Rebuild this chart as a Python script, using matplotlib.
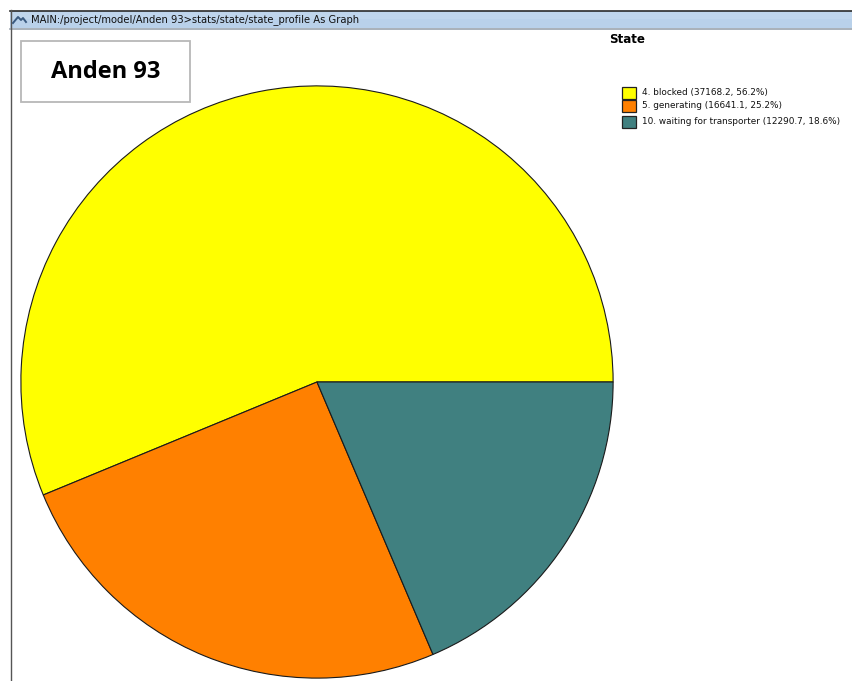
import matplotlib
matplotlib.use("Agg")
import matplotlib.pyplot as plt
from matplotlib.patches import Rectangle
from matplotlib.lines import Line2D

# State profile data
states = ["4. blocked", "5. generating", "10. waiting for transporter"]
durations = [37168.2, 16641.1, 12290.7]
percents = [56.2, 25.2, 18.6]
colors = ["#ffff00", "#ff8000", "#408080"]

window_title = "MAIN:/project/model/Anden 93>stats/state/state_profile As Graph"
object_name = "Anden 93"
legend_title = "State"

W, H = 852, 681
fig = plt.figure(figsize=(W / 100, H / 100), dpi=100)
fig.patch.set_facecolor("white")

# Window frame: title bar and left border (pixel coordinates, origin top-left)
overlay = fig.add_axes([0, 0, 1, 1])
overlay.set_xlim(0, W)
overlay.set_ylim(H, 0)
overlay.axis("off")
overlay.set_zorder(0)
overlay.add_patch(Rectangle((10, 11), W - 10, 17, facecolor="#b9d1ea", edgecolor="none"))
overlay.add_patch(Rectangle((10, 11), W - 10, 8, facecolor="#c4d9ef", edgecolor="none", alpha=0.6))
overlay.add_line(Line2D([10, W], [10.5, 10.5], color="#2a2a2a", lw=1.2))
overlay.add_line(Line2D([10, W], [28.5, 28.5], color="#9aa3ad", lw=1.2))
overlay.add_line(Line2D([10.5, 10.5], [10, H], color="#555555", lw=1.0))
# title bar icon
overlay.add_line(Line2D([13, 18, 21, 23, 26], [23, 17, 20, 18, 22], color="#3a5a80", lw=1.4))
overlay.text(31, 19.5, window_title, fontsize=7.2, family="DejaVu Sans",
             va="center", ha="left", color="#111111")

# Object name box
overlay.add_patch(Rectangle((21, 40.5), 169, 61, facecolor="white",
                            edgecolor="#b8b8b8", lw=1.3))
overlay.text(105.5, 72, object_name, fontsize=17, fontweight="bold",
             family="Open Sans", ha="center", va="center", color="black")

# Legend
overlay.text(627.5, 39.5, legend_title, fontsize=8.6, fontweight="bold",
             family="DejaVu Sans", ha="center", va="center", color="black")
row_y = [92.5, 106, 122]
for name, dur, pct, col, y in zip(states, durations, percents, colors, row_y):
    overlay.add_patch(Rectangle((622, y - 6), 14, 12, facecolor=col,
                                edgecolor="#222222", lw=0.9))
    overlay.text(642, y, f"{name} ({dur:.1f}, {pct:.1f}%)", fontsize=6.4,
                 family="DejaVu Sans", ha="left", va="center", color="#111111")

# Pie chart
cx, cy, r = 317, 382, 297
ax = fig.add_axes([(cx - r) / W, 1 - (cy + r) / H, 2 * r / W, 2 * r / H])
ax.set_zorder(1)
ax.pie(durations, colors=colors, startangle=0, counterclock=True, radius=1,
       wedgeprops=dict(edgecolor="#1a1a1a", linewidth=0.8))
ax.set_xlim(-1.003, 1.003)
ax.set_ylim(-1.003, 1.003)
ax.set_aspect("auto")
ax.axis("off")

fig.savefig("out.png", dpi=100, facecolor="white")
